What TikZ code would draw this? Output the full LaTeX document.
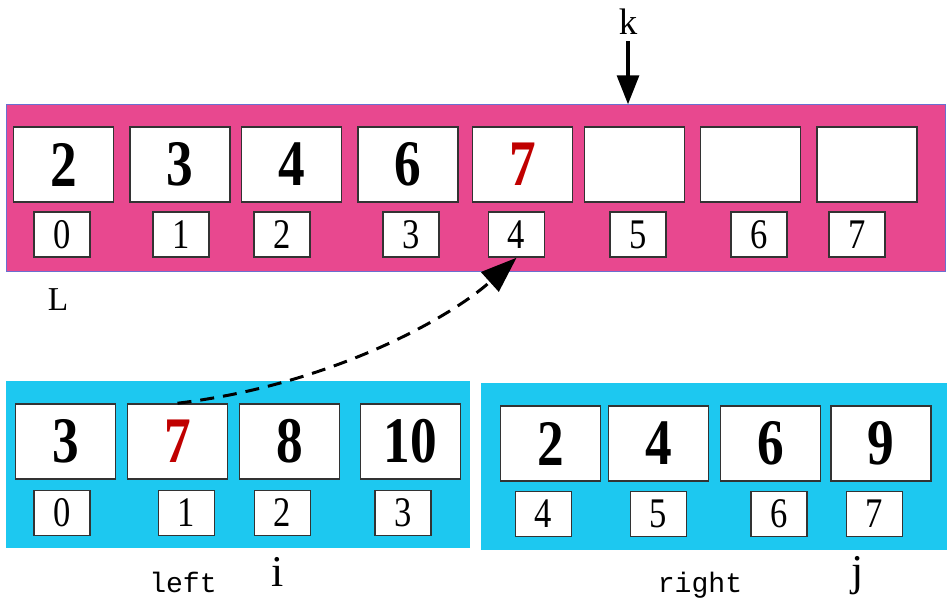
\documentclass[tikz,border=0pt]{standalone}
\usepackage{fontspec}
\setmainfont{Liberation Serif}
\setmonofont{Liberation Mono}
\newfontfamily\narrowserif[FakeStretch=0.82]{Liberation Serif}
\usetikzlibrary{arrows.meta,positioning,calc}
\definecolor{RowPink}{HTML}{E8488F}
\definecolor{RowBlue}{HTML}{1DC8F0}
\definecolor{EdgeBlue}{HTML}{6A6FD0}
\definecolor{NumRed}{HTML}{C00000}

\begin{document}
\begin{tikzpicture}[x=0.02cm,y=-0.02cm,
    band/.style={inner sep=0pt,outer sep=0pt,minimum height=3.35cm},
    valbox/.style={draw=black!80,line width=0.9pt,fill=white,inner sep=0pt,
      minimum width=2cm,minimum height=1.5cm,font=\narrowserif\fontsize{37}{37}\selectfont\bfseries},
    idxbox/.style={draw=black!80,line width=0.9pt,fill=white,inner sep=0pt,
      minimum width=1.12cm,minimum height=0.9cm,font=\narrowserif\fontsize{24}{24}\selectfont},
    lbl/.style={font=\fontsize{21}{21}\selectfont},
    mono/.style={font=\ttfamily\fontsize{16}{16}\selectfont}]
  \useasboundingbox (0,0) rectangle (952,603);
  % merged array L
  \node[band,fill=RowPink,draw=EdgeBlue,line width=0.6pt,minimum width=18.8cm] (Lband) at (476,188) {};
  \foreach \x/\v [count=\n from 0] in {63.5/2,180/3,291.5/4,408/6,522.5/\textcolor{NumRed}{7},634.5/,750.5/,867/}
    \node[valbox] (L\n) at (\x,164.5) {\v};
  \foreach \x [count=\n from 0] in {62,181,282,411,516.5,638,759,857}
    \node[idxbox] (Lidx\n) at (\x,234.5) {\n};
  \node[lbl,font=\fontsize{19}{19}\selectfont] (Lname) at (58,300) {L};
  \node[lbl] (k) at (628,22) {k};
  \draw[line width=1.8pt,-{Triangle[length=0.58cm,width=0.44cm]}] (k.south) -- (k.south |- Lband.north);
  % left half
  \node[band,fill=RowBlue,minimum width=9.28cm] (Aband) at (238,464.5) {};
  \foreach \x/\v [count=\n from 0] in {65.5/3,177.5/\textcolor{NumRed}{7},289.5/8,410.5/10}
    \node[valbox] (A\n) at (\x,441.5) {\v};
  \foreach \x [count=\n from 0] in {62,186.5,282.5,403}
    \node[idxbox] (Aidx\n) at (\x,513) {\n};
  % right half
  \node[band,fill=RowBlue,minimum width=9.32cm] (Bband) at (714,466.5) {};
  \foreach \x/\v [count=\n from 0] in {550.5/2,658.5/4,770.5/6,881/9}
    \node[valbox] (B\n) at (\x,443.5) {\v};
  \foreach \x [count=\n from 4] in {543.5,658.5,779,874.5}
    \node[idxbox] (Bidx\n) at (\x,514) {\n};
  \node[mono] (lname) at (183,582) {left};
  \node[lbl,font=\fontsize{25}{25}\selectfont] (i) at (278,572) {i};
  \node[mono] (rname) at (700,585) {right};
  \node[lbl,font=\fontsize{25}{25}\selectfont] (j) at (858,576) {j};
  % copy step
  \draw[line width=1.7pt,dash pattern=on 0.28cm off 0.18cm,-{Triangle[length=0.72cm,width=0.52cm]}]
    (A1.north) .. controls (330,385) and (450,318) .. (Lidx4.south);
\end{tikzpicture}
\end{document}
